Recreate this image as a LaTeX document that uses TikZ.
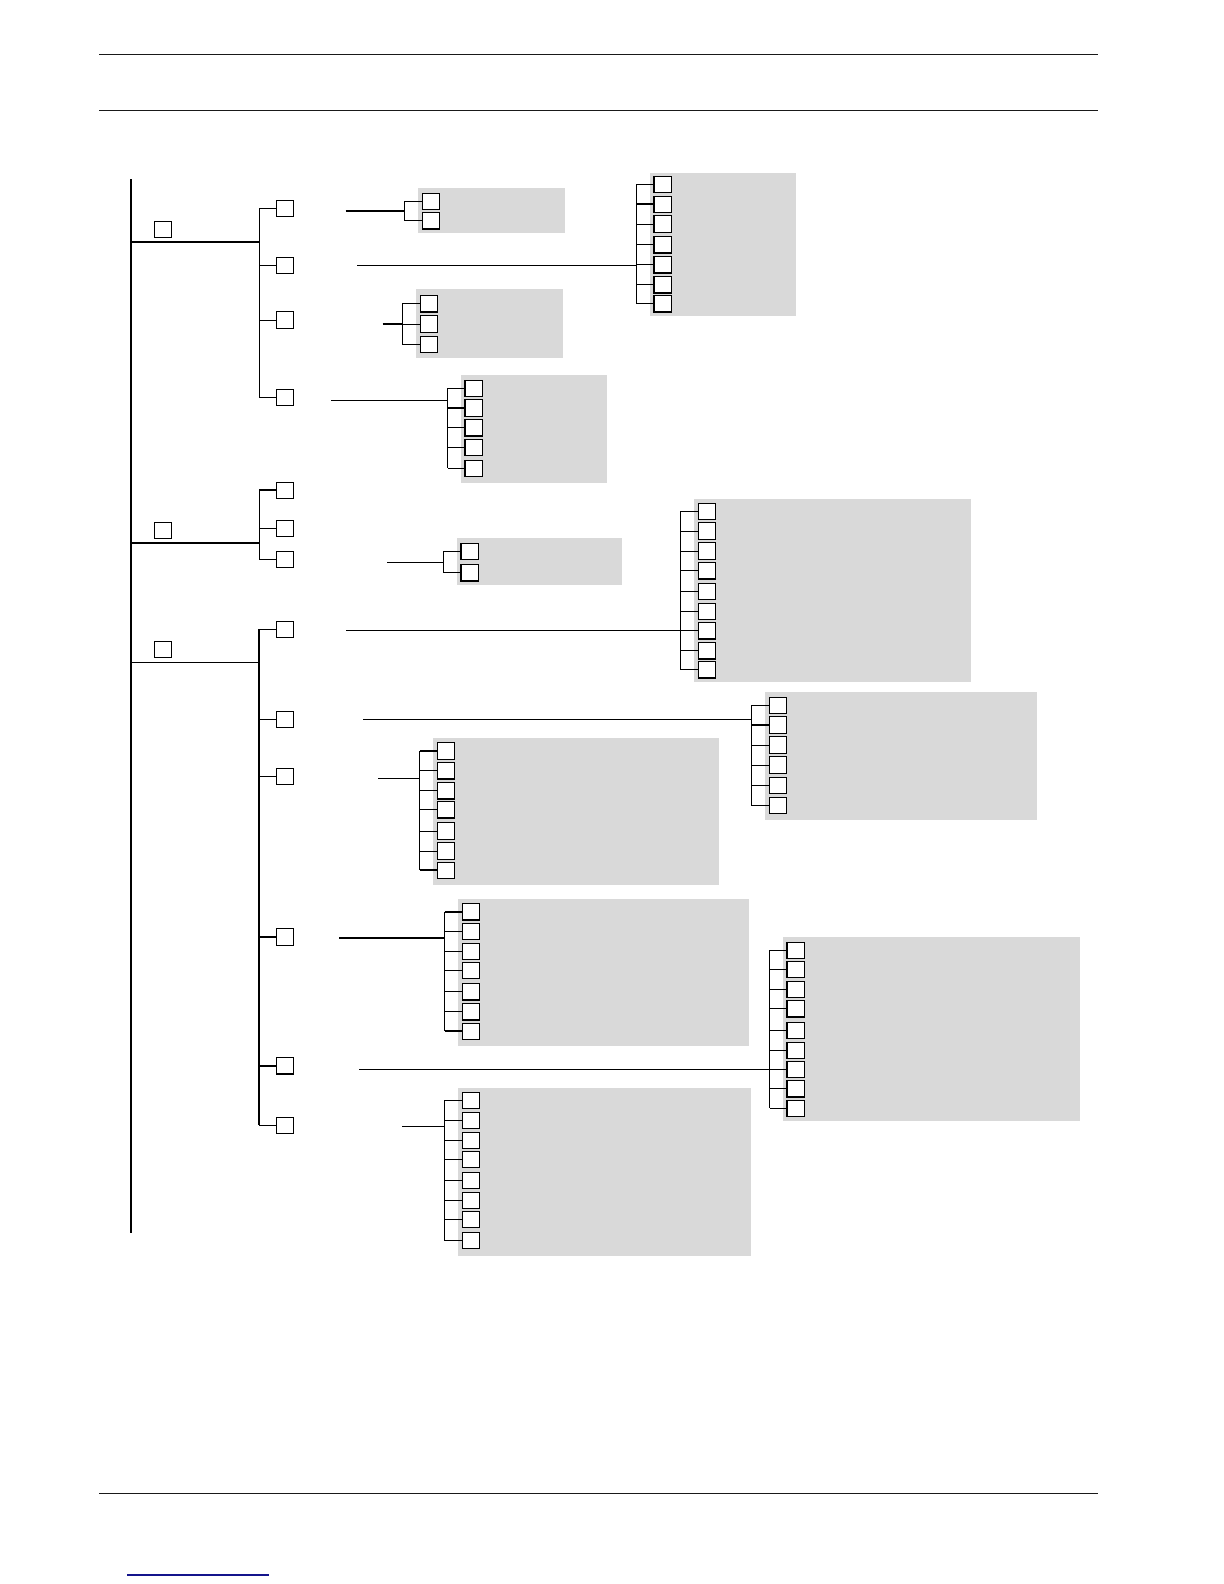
\documentclass[tikz,border=0pt]{standalone}
\begin{document}
\begin{tikzpicture}[x=0.5pt,y=-0.5pt,
  sbox/.style={draw=black,fill=white,line width=0.6pt,minimum width=8.6pt,minimum height=8.2pt,inner sep=0pt,outer sep=0pt},
  panel/.style={fill=black!15,draw=none},
  thin/.style={line width=0.45pt},
  thick/.style={line width=0.9pt},
  rule/.style={line width=0.55pt,draw=black!90}]
\useasboundingbox (0,0) rectangle (1224,1584);
% page rules
\coordinate (r1a) at (99,54.3); \coordinate (r1b) at (1098,54.3);
\coordinate (r2a) at (99,110.3); \coordinate (r2b) at (1098,110.3);
\coordinate (r3a) at (99,1493.3); \coordinate (r3b) at (1098,1493.3);
\coordinate (la) at (127,1575); \coordinate (lb) at (269,1575);
\draw[rule] (r1a) -- (r1b);
\draw[rule] (r2a) -- (r2b);
\draw[rule] (r3a) -- (r3b);
\draw[line width=0.8pt,draw={rgb,255:red,20;green,20;blue,140}] (la) -- (lb);
% grey panels
\fill[panel] (418.3,188) rectangle (565,232.7);
\fill[panel] (650,173.3) rectangle (796,315.7);
\fill[panel] (416,289) rectangle (563,357.7);
\fill[panel] (461.3,375) rectangle (607,482.7);
\fill[panel] (457,538.3) rectangle (622,585);
\fill[panel] (694.3,499) rectangle (971,682.3);
\fill[panel] (765,692) rectangle (1037,820);
\fill[panel] (433.3,738) rectangle (719,884.7);
\fill[panel] (458.3,899.3) rectangle (749,1045.7);
\fill[panel] (783.3,937.3) rectangle (1080,1120.7);
\fill[panel] (458,1088) rectangle (751,1255.7);
% main trunk
\coordinate (trunkTop) at (131,179);
\coordinate (trunkBot) at (131,1233);
\draw[thick] (trunkTop) -- (trunkBot);
% top level boxes
\node[sbox] (A) at (163,229.3) {};
\node[sbox] (B) at (163,530.3) {};
\node[sbox] (C) at (163,649.3) {};
\coordinate (sA) at (259.3,241.7);
\coordinate (sB) at (259.3,542.7);
\coordinate (sC) at (259.3,662.3);
\draw[thick] (trunkTop |- sA) -- (sA);
\draw[thick] (trunkTop |- sB) -- (sB);
\draw[thin] (trunkTop |- sC) -- (sC);
% second level boxes
\foreach \n/\yy in {a/208.3,b/265.3,c/320,d/397.5}{\node[sbox] (A\n) at (285,\yy) {};}
\foreach \n/\yy in {a/490.3,b/528.3,c/559.3}{\node[sbox] (B\n) at (285,\yy) {};}
\foreach \n/\yy in {a/629.3,b/719.3,c/776.3,d/937,e/1065.7,f/1125.3}{\node[sbox] (C\n) at (285,\yy) {};}
% branch verticals
\draw[thin] (sA |- Aa.west) -- (sA |- Ad.west);
\draw[thin] (sB |- Ba.west) -- (sB |- Bc.west);
\draw[thick] (sC |- Ca.west) -- (sC |- Cf.west);
\foreach \n in {a,b,c}{\draw[thin] (A\n.west) -- (sA |- A\n.west);}
\draw[thick] (Ad.west) -- (sA |- Ad.west);
\draw[thick] (Ba.west) -- (sB |- Ba.west);
\foreach \n in {b,c}{\draw[thin] (B\n.west) -- (sB |- B\n.west);}
\foreach \n in {a,b,c,f}{\draw[thin] (C\n.west) -- (sC |- C\n.west);}
\foreach \n in {d,e}{\draw[thick] (C\n.west) -- (sC |- C\n.west);}
% ---------- groups ----------
% G1
\coordinate (g1in) at (345.7,211); \coordinate (g1br) at (404.3,211);
\foreach \yy [count=\i] in {201.3,220.8}{\node[sbox] (g1-\i) at (431,\yy) {};}
\draw[thick] (g1in) -- (g1br);
\draw[thin] (g1br |- g1-1.west) -- (g1br |- g1-2.west);
\foreach \i in {1,2}{\draw[thin] (g1-\i.west) -- (g1br |- g1-\i.west);}
% G2
\coordinate (g2in) at (357.3,265.3); \coordinate (g2br) at (636.3,265.3);
\foreach \yy [count=\i] in {184.3,204.3,224,244.7,264.7,284.7,303.7}{\node[sbox] (g2-\i) at (662.5,\yy) {};}
\draw[thin] (g2in) -- (g2br);
\draw[thin] (g2br |- g2-1.west) -- (g2br |- g2-7.west);
\foreach \i in {1,3,4,5,6,7}{\draw[thin] (g2-\i.west) -- (g2br |- g2-\i.west);}
\draw[thick] (g2-2.west) -- (g2br |- g2-2.west);
% G3
\coordinate (g3in) at (382.7,324); \coordinate (g3br) at (402.3,324);
\foreach \yy [count=\i] in {303.7,324,344.3}{\node[sbox] (g3-\i) at (429,\yy) {};}
\draw[thick] (g3in) -- (g3br);
\draw[thin] (g3br |- g3-1.west) -- (g3br |- g3-3.west);
\foreach \i in {1,2,3}{\draw[thin] (g3-\i.west) -- (g3br |- g3-\i.west);}
% G4
\coordinate (g4in) at (331,400.3); \coordinate (g4br) at (447.7,400.3);
\foreach \yy [count=\i] in {388.3,408,427.7,447.3,468.3}{\node[sbox] (g4-\i) at (473.5,\yy) {};}
\draw[thin] (g4in) -- (g4br);
\draw[thin] (g4br |- g4-1.west) -- (g4br |- g4-5.west);
\foreach \i in {1,3,4,5}{\draw[thin] (g4-\i.west) -- (g4br |- g4-\i.west);}
\draw[thick] (g4-2.west) -- (g4br |- g4-2.west);
% G5
\coordinate (g5in) at (387,562.3); \coordinate (g5br) at (443.6,562.3);
\foreach \yy [count=\i] in {551.3,572.7}{\node[sbox] (g5-\i) at (469.5,\yy) {};}
\draw[thin] (g5in) -- (g5br);
\draw[thin] (g5br |- g5-1.west) -- (g5br |- g5-2.west);
\foreach \i in {1,2}{\draw[thin] (g5-\i.west) -- (g5br |- g5-\i.west);}
% G6
\coordinate (g6in) at (346.4,630.3); \coordinate (g6br) at (680.3,630.3);
\foreach \yy [count=\i] in {511.3,531,551,570.7,591.3,611.3,630.7,650.7,669.7}{\node[sbox] (g6-\i) at (707,\yy) {};}
\draw[thin] (g6in) -- (g6br);
\draw[thin] (g6br |- g6-1.west) -- (g6br |- g6-9.west);
\foreach \i in {1,...,9}{\draw[thin] (g6-\i.west) -- (g6br |- g6-\i.west);}
% G7
\coordinate (g7in) at (363.3,719.3); \coordinate (g7br) at (751.3,719.3);
\foreach \yy [count=\i] in {705.3,725,745,765,785.3,805.3}{\node[sbox] (g7-\i) at (778,\yy) {};}
\draw[thin] (g7in) -- (g7br);
\draw[thin] (g7br |- g7-1.west) -- (g7br |- g7-6.west);
\foreach \i in {1,3,4,5,6}{\draw[thin] (g7-\i.west) -- (g7br |- g7-\i.west);}
\draw[thick] (g7-2.west) -- (g7br |- g7-2.west);
% G8
\coordinate (g8in) at (378,778.3); \coordinate (g8br) at (419.7,778.3);
\foreach \yy [count=\i] in {751,770.7,790.7,809.7,831,851,870.3}{\node[sbox] (g8-\i) at (446,\yy) {};}
\draw[thin] (g8in) -- (g8br);
\draw[thin] (g8br |- g8-1.west) -- (g8br |- g8-7.west);
\foreach \i in {2,...,6}{\draw[thin] (g8-\i.west) -- (g8br |- g8-\i.west);}
\foreach \i in {1,7}{\draw[thick] (g8-\i.west) -- (g8br |- g8-\i.west);}
% G9
\coordinate (g9in) at (339.3,938); \coordinate (g9br) at (444.7,938);
\foreach \yy [count=\i] in {911.7,931.3,951.3,970.3,991.7,1011.7,1031.3}{\node[sbox] (g9-\i) at (471,\yy) {};}
\draw[thick] (g9in) -- (g9br);
\draw[thin] (g9br |- g9-1.west) -- (g9br |- g9-7.west);
\foreach \i in {2,...,6}{\draw[thin] (g9-\i.west) -- (g9br |- g9-\i.west);}
\foreach \i in {1,7}{\draw[thick] (g9-\i.west) -- (g9br |- g9-\i.west);}
% G10
\coordinate (g10in) at (359,1069.3); \coordinate (g10br) at (769.7,1069.3);
\foreach \yy [count=\i] in {950.3,969.3,989.3,1008.7,1030.3,1050.3,1069.3,1088.7,1108.3}{\node[sbox] (g10-\i) at (795.5,\yy) {};}
\draw[thin] (g10in) -- (g10br);
\draw[thin] (g10br |- g10-1.west) -- (g10br |- g10-9.west);
\foreach \i in {1,...,9}{\draw[thin] (g10-\i.west) -- (g10br |- g10-\i.west);}
% G11
\coordinate (g11in) at (402,1126.3); \coordinate (g11br) at (444.3,1126.3);
\foreach \yy [count=\i] in {1100.3,1120.3,1140.3,1159.3,1180.3,1200.3,1219.3,1240.3}{\node[sbox] (g11-\i) at (471,\yy) {};}
\draw[thin] (g11in) -- (g11br);
\draw[thin] (g11br |- g11-1.west) -- (g11br |- g11-8.west);
\foreach \i in {1,...,8}{\draw[thin] (g11-\i.west) -- (g11br |- g11-\i.west);}
\end{tikzpicture}
\end{document}
